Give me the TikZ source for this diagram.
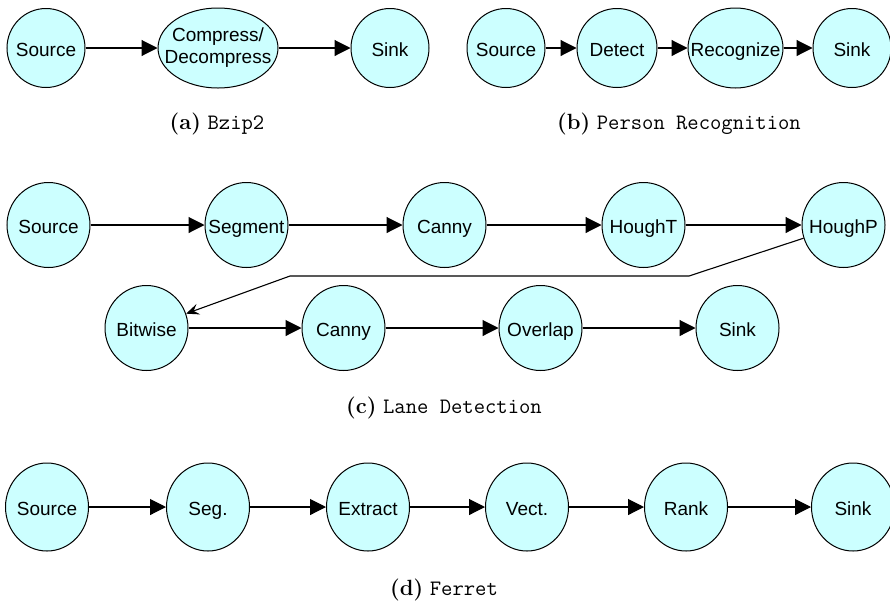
\documentclass[tikz,border=0pt]{standalone}
\usepackage{fontspec}
\newfontfamily\arialfont{Liberation Sans}
\usetikzlibrary{arrows.meta,positioning,shapes.geometric}
\definecolor{stagefill}{HTML}{CCFFFF}
\newcommand{\lbl}[1]{\makebox[0pt]{#1}}

\begin{document}
\begin{tikzpicture}[
    x=1pt, y=-1pt,
    stage/.style={ellipse, draw, fill=stagefill, line width=1pt, inner sep=0pt,
        minimum width=78pt, minimum height=79pt, align=center,
        text height=16pt, text depth=0pt,
        font=\arialfont\fontsize{19}{22}\selectfont},
    arrow/.style={-{Triangle[length=16pt, width=16pt]}, line width=1.1pt},
    back/.style={-{Stealth[length=13pt, width=11pt, inset=5pt]}, line width=1.1pt},
    caption/.style={inner sep=0pt, font=\fontsize{22}{26}\selectfont}
]
\useasboundingbox (0,0) rectangle (890,603);

% (a) Bzip2
\node[stage] (a1) at (46,48) {\lbl{Source}};
\node[stage, minimum width=120pt, minimum height=80pt, text height={}, text depth={},
    right=72pt of a1] (a2) {\lbl{Compress/}\\\lbl{Decompress}};
\node[stage, right=72pt of a2] (a3) {\lbl{Sink}};

\draw[arrow] (a1) -- (a2);
\draw[arrow] (a2) -- (a3);

\node[caption] (capA) at (217,124) {\textbf{(a)} \texttt{Bzip2}};

% (b) Person Recognition
\node[stage] (b1) at (506,48) {\lbl{Source}};
\node[stage, minimum width=80pt, right=31pt of b1] (b2) {\lbl{Detect}};
\node[stage, minimum width=95pt, minimum height=80pt, right=30pt of b2] (b3) {\lbl{Recognize}};
\node[stage, right=29pt of b3] (b4) {\lbl{Sink}};

\draw[arrow] (b1) -- (b2);
\draw[arrow] (b2) -- (b3);
\draw[arrow] (b3) -- (b4);

\node[caption] (capB) at (679,124) {\textbf{(b)} \texttt{Person Recognition}};

% (c) Lane Detection, two rows
\begin{scope}[stage/.append style={minimum width=83pt, minimum height=85pt}]
\node[stage] (c1) at (48.5,225) {\lbl{Source}};
\node[stage, right=114pt of c1] (c2) {\lbl{Segment}};
\node[stage, right=114pt of c2] (c3) {\lbl{Canny}};
\node[stage, right=115pt of c3] (c4) {\lbl{HoughT}};
\node[stage, right=116pt of c4] (c5) {\lbl{HoughP}};

\node[stage] (c6) at (146.5,328) {\lbl{Bitwise}};
\node[stage, right=113pt of c6] (c7) {\lbl{Canny}};
\node[stage, right=113pt of c7] (c8) {\lbl{Overlap}};
\node[stage, right=113pt of c8] (c9) {\lbl{Sink}};
\end{scope}

\draw[arrow] (c1) -- (c2);
\draw[arrow] (c2) -- (c3);
\draw[arrow] (c3) -- (c4);
\draw[arrow] (c4) -- (c5);

\coordinate (turnR) at (689,276);
\coordinate (turnL) at (290,276);
\draw[back] (c5) -- (turnR) -- (turnL) -- (c6);

\draw[arrow] (c6) -- (c7);
\draw[arrow] (c7) -- (c8);
\draw[arrow] (c8) -- (c9);

\node[caption] (capC) at (444,408) {\textbf{(c)} \texttt{Lane Detection}};

% (d) Ferret
\begin{scope}[stage/.append style={minimum width=83pt, minimum height=88pt}]
\node[stage] (d1) at (47,507) {\lbl{Source}};
\node[stage, right=77pt of d1] (d2) {\lbl{Seg.}};
\node[stage, right=76pt of d2] (d3) {\lbl{Extract}};
\node[stage, right=75pt of d3] (d4) {\lbl{Vect.}};
\node[stage, right=75pt of d4] (d5) {\lbl{Rank}};
\node[stage, right=83pt of d5] (d6) {\lbl{Sink}};
\end{scope}

\draw[arrow] (d1) -- (d2);
\draw[arrow] (d2) -- (d3);
\draw[arrow] (d3) -- (d4);
\draw[arrow] (d4) -- (d5);
\draw[arrow] (d5) -- (d6);

\node[caption] (capD) at (444,590) {\textbf{(d)} \texttt{Ferret}};
\end{tikzpicture}
\end{document}
